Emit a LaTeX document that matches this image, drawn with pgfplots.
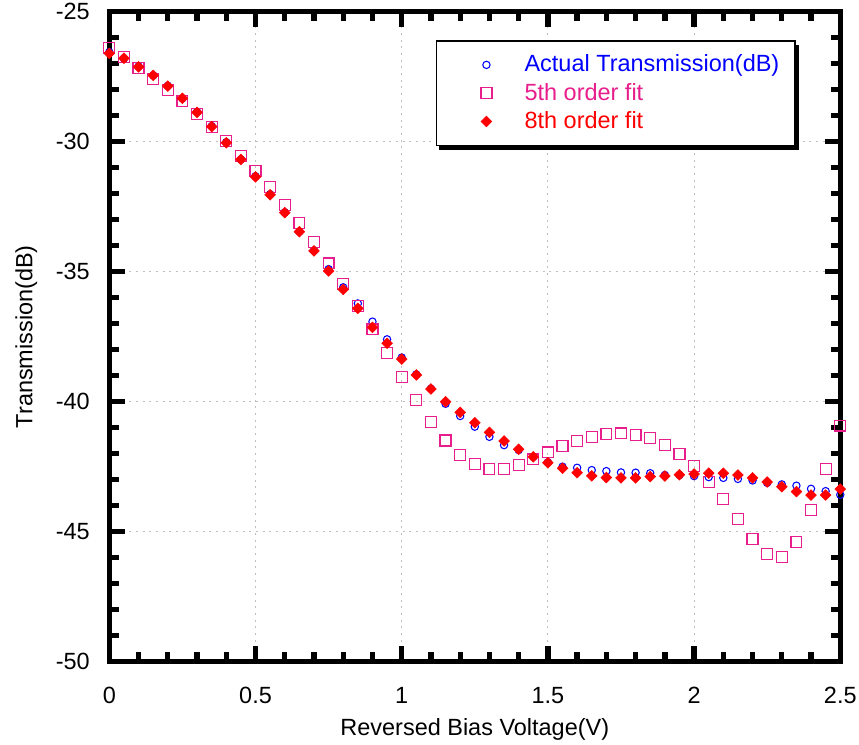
\documentclass[border=0pt]{standalone}
\usepackage{fontspec}
\setmainfont{Liberation Sans}
\usepackage{pgfplots}
\usepackage{pgfplotstable}
\pgfplotsset{compat=1.18}
\definecolor{actblue}{RGB}{0,0,255}
\definecolor{fitpink}{RGB}{232,30,140}
\definecolor{fitred}{RGB}{255,0,0}
\newcommand{\chartfont}{\fontsize{17.6}{20}\selectfont}

\pgfplotstableread{
x     act     f5      f8
0.00  -26.55  -26.38  -26.60
0.05  -26.80  -26.75  -26.79
0.10  -27.10  -27.17  -27.12
0.15  -27.45  -27.58  -27.45
0.20  -27.85  -28.01  -27.86
0.25  -28.33  -28.42  -28.33
0.30  -28.85  -28.93  -28.87
0.35  -29.40  -29.42  -29.42
0.40  -30.02  -29.97  -30.04
0.45  -30.68  -30.54  -30.68
0.50  -31.33  -31.13  -31.35
0.55  -32.02  -31.75  -32.04
0.60  -32.72  -32.42  -32.73
0.65  -33.45  -33.14  -33.46
0.70  -34.18  -33.87  -34.20
0.75  -34.90  -34.68  -34.97
0.80  -35.60  -35.47  -35.68
0.85  -36.22  -36.32  -36.41
0.90  -36.92  -37.22  -37.14
0.95  -37.60  -38.12  -37.75
1.00  -38.30  -39.04  -38.36
1.05  -38.95  -39.93  -38.97
1.10  -39.50  -40.77  -39.51
1.15  -40.08  -41.49  -40.00
1.20  -40.55  -42.05  -40.41
1.25  -40.96  -42.41  -40.81
1.30  -41.35  -42.59  -41.18
1.35  -41.67  -42.58  -41.51
1.40  -41.86  -42.43  -41.83
1.45  -42.12  -42.22  -42.12
1.50  -42.33  -41.95  -42.35
1.55  -42.50  -41.70  -42.56
1.60  -42.54  -41.50  -42.73
1.65  -42.63  -41.35  -42.85
1.70  -42.67  -41.25  -42.92
1.75  -42.72  -41.22  -42.93
1.80  -42.73  -41.29  -42.93
1.85  -42.75  -41.41  -42.88
1.90  -42.82  -41.67  -42.86
1.95  -42.82  -42.02  -42.81
2.00  -42.86  -42.47  -42.78
2.05  -42.90  -43.08  -42.75
2.10  -42.93  -43.75  -42.75
2.15  -42.97  -44.52  -42.82
2.20  -43.03  -45.29  -42.93
2.25  -43.12  -45.87  -43.09
2.30  -43.18  -45.98  -43.27
2.35  -43.23  -45.40  -43.46
2.40  -43.35  -44.17  -43.59
2.45  -43.44  -42.59  -43.59
2.50  -43.58  -40.92  -43.36
}\datatable

\begin{document}
\begin{tikzpicture}
\begin{axis}[
  scale only axis, width=548.25pt, height=487.5pt,
  xmin=0, xmax=2.5, ymin=-50, ymax=-25,
  clip=false,
  xtick={0,0.5,1,1.5,2,2.5}, xticklabels={0,0.5,1,1.5,2,2.5},
  ytick={-50,-45,-40,-35,-30,-25}, yticklabels={-50,-45,-40,-35,-30,-25},
  minor x tick num=4, minor y tick num=4,
  tick align=inside,
  major tick length=11.4pt, minor tick length=6.9pt,
  every tick/.append style={black, line width=4pt},
  axis line style={black, line width=3.75pt},
  grid=major,
  major grid style={black!25, line width=0.75pt, dash pattern=on 1.5pt off 3.5pt},
  tick label style={font=\chartfont},
  xticklabel style={anchor=base, inner sep=0pt, yshift=-31.2pt},
  yticklabel style={anchor=east, inner sep=0pt, xshift=-14.5pt},
  xlabel={Reversed Bias Voltage(V)},
  ylabel={Transmission(dB)},
  label style={font=\chartfont},
  xlabel style={at={(axis description cs:0.5,-0.1128)}, anchor=base},
  ylabel style={at={(axis description cs:-0.1053,0.5)}, anchor=base, rotate=0},
  legend cell align=left,
  legend style={at={(0.447,0.9554)}, anchor=north west,
    draw=none, fill=white,
    preaction={fill=black, draw=black, transform canvas={shift={(2.5pt,-3pt)}}},
    postaction={draw=black, line width=1.2pt},
    inner xsep=9.75pt, inner ysep=8pt, row sep=1.4pt, column sep=0pt,
    font=\chartfont,
    nodes={inner sep=2pt, text height=13.2pt, text depth=2.64pt}},
  legend image code/.code={\path (0pt,0pt) (53.25pt,0pt); \draw[#1] plot coordinates {(27.25pt,0pt)};},
]
% frame and tick marks (drawn through the axis)
\addplot[forget plot, black, line width=3.75pt, line cap=rect, line join=miter]
  coordinates {(0,-50) (2.5,-50) (2.5,-25) (0,-25) (0,-50)};
\addplot[forget plot, black, line width=4pt, unbounded coords=jump] coordinates {
(0.1,-50)(0.1,-49.646)(0.1,nan) (0.2,-50)(0.2,-49.646)(0.2,nan) (0.3,-50)(0.3,-49.646)(0.3,nan) (0.4,-50)(0.4,-49.646)(0.4,nan)
(0.6,-50)(0.6,-49.646)(0.6,nan) (0.7,-50)(0.7,-49.646)(0.7,nan) (0.8,-50)(0.8,-49.646)(0.8,nan) (0.9,-50)(0.9,-49.646)(0.9,nan)
(1.1,-50)(1.1,-49.646)(1.1,nan) (1.2,-50)(1.2,-49.646)(1.2,nan) (1.3,-50)(1.3,-49.646)(1.3,nan) (1.4,-50)(1.4,-49.646)(1.4,nan)
(1.6,-50)(1.6,-49.646)(1.6,nan) (1.7,-50)(1.7,-49.646)(1.7,nan) (1.8,-50)(1.8,-49.646)(1.8,nan) (1.9,-50)(1.9,-49.646)(1.9,nan)
(2.1,-50)(2.1,-49.646)(2.1,nan) (2.2,-50)(2.2,-49.646)(2.2,nan) (2.3,-50)(2.3,-49.646)(2.3,nan) (2.4,-50)(2.4,-49.646)(2.4,nan)
(0.5,-50)(0.5,-49.415)(0.5,nan) (1,-50)(1,-49.415)(1,nan) (1.5,-50)(1.5,-49.415)(1.5,nan) (2,-50)(2,-49.415)(2,nan)
(0.1,-25)(0.1,-25.354)(0.1,nan) (0.2,-25)(0.2,-25.354)(0.2,nan) (0.3,-25)(0.3,-25.354)(0.3,nan) (0.4,-25)(0.4,-25.354)(0.4,nan)
(0.6,-25)(0.6,-25.354)(0.6,nan) (0.7,-25)(0.7,-25.354)(0.7,nan) (0.8,-25)(0.8,-25.354)(0.8,nan) (0.9,-25)(0.9,-25.354)(0.9,nan)
(1.1,-25)(1.1,-25.354)(1.1,nan) (1.2,-25)(1.2,-25.354)(1.2,nan) (1.3,-25)(1.3,-25.354)(1.3,nan) (1.4,-25)(1.4,-25.354)(1.4,nan)
(1.6,-25)(1.6,-25.354)(1.6,nan) (1.7,-25)(1.7,-25.354)(1.7,nan) (1.8,-25)(1.8,-25.354)(1.8,nan) (1.9,-25)(1.9,-25.354)(1.9,nan)
(2.1,-25)(2.1,-25.354)(2.1,nan) (2.2,-25)(2.2,-25.354)(2.2,nan) (2.3,-25)(2.3,-25.354)(2.3,nan) (2.4,-25)(2.4,-25.354)(2.4,nan)
(0.5,-25)(0.5,-25.585)(0.5,nan) (1,-25)(1,-25.585)(1,nan) (1.5,-25)(1.5,-25.585)(1.5,nan) (2,-25)(2,-25.585)(2,nan)
};
\addplot[forget plot, black, line width=4pt, unbounded coords=jump] coordinates {
(0,-49)(0.0315,-49)(nan,-49) (0,-48)(0.0315,-48)(nan,-48) (0,-47)(0.0315,-47)(nan,-47) (0,-46)(0.0315,-46)(nan,-46)
(0,-44)(0.0315,-44)(nan,-44) (0,-43)(0.0315,-43)(nan,-43) (0,-42)(0.0315,-42)(nan,-42) (0,-41)(0.0315,-41)(nan,-41)
(0,-39)(0.0315,-39)(nan,-39) (0,-38)(0.0315,-38)(nan,-38) (0,-37)(0.0315,-37)(nan,-37) (0,-36)(0.0315,-36)(nan,-36)
(0,-34)(0.0315,-34)(nan,-34) (0,-33)(0.0315,-33)(nan,-33) (0,-32)(0.0315,-32)(nan,-32) (0,-31)(0.0315,-31)(nan,-31)
(0,-29)(0.0315,-29)(nan,-29) (0,-28)(0.0315,-28)(nan,-28) (0,-27)(0.0315,-27)(nan,-27) (0,-26)(0.0315,-26)(nan,-26)
(0,-45)(0.052,-45)(nan,-45) (0,-40)(0.052,-40)(nan,-40) (0,-35)(0.052,-35)(nan,-35) (0,-30)(0.052,-30)(nan,-30)
(2.5,-49)(2.4685,-49)(nan,-49) (2.5,-48)(2.4685,-48)(nan,-48) (2.5,-47)(2.4685,-47)(nan,-47) (2.5,-46)(2.4685,-46)(nan,-46)
(2.5,-44)(2.4685,-44)(nan,-44) (2.5,-43)(2.4685,-43)(nan,-43) (2.5,-42)(2.4685,-42)(nan,-42) (2.5,-41)(2.4685,-41)(nan,-41)
(2.5,-39)(2.4685,-39)(nan,-39) (2.5,-38)(2.4685,-38)(nan,-38) (2.5,-37)(2.4685,-37)(nan,-37) (2.5,-36)(2.4685,-36)(nan,-36)
(2.5,-34)(2.4685,-34)(nan,-34) (2.5,-33)(2.4685,-33)(nan,-33) (2.5,-32)(2.4685,-32)(nan,-32) (2.5,-31)(2.4685,-31)(nan,-31)
(2.5,-29)(2.4685,-29)(nan,-29) (2.5,-28)(2.4685,-28)(nan,-28) (2.5,-27)(2.4685,-27)(nan,-27) (2.5,-26)(2.4685,-26)(nan,-26)
(2.5,-45)(2.448,-45)(nan,-45) (2.5,-40)(2.448,-40)(nan,-40) (2.5,-35)(2.448,-35)(nan,-35) (2.5,-30)(2.448,-30)(nan,-30)
};
\addplot[only marks, mark=o, mark size=2.75pt, actblue, line width=0.8pt] table[x=x,y=act] {\datatable};
\addlegendentry{\textcolor{actblue}{Actual Transmission(dB)}}
\addplot[only marks, mark=square, mark size=4.1pt, fitpink, line width=0.9pt] table[x=x,y=f5] {\datatable};
\addlegendentry{\textcolor{fitpink}{5th order fit}}
\addplot[only marks, mark=square*, mark size=2.85pt, fitred, line width=0.4pt, mark options={rotate=45}] table[x=x,y=f8] {\datatable};
\addlegendentry{\textcolor{fitred}{8th order fit}}
\end{axis}
\path (-82pt,-61.7pt) rectangle (562.3pt,496.3pt);
\end{tikzpicture}
\end{document}
